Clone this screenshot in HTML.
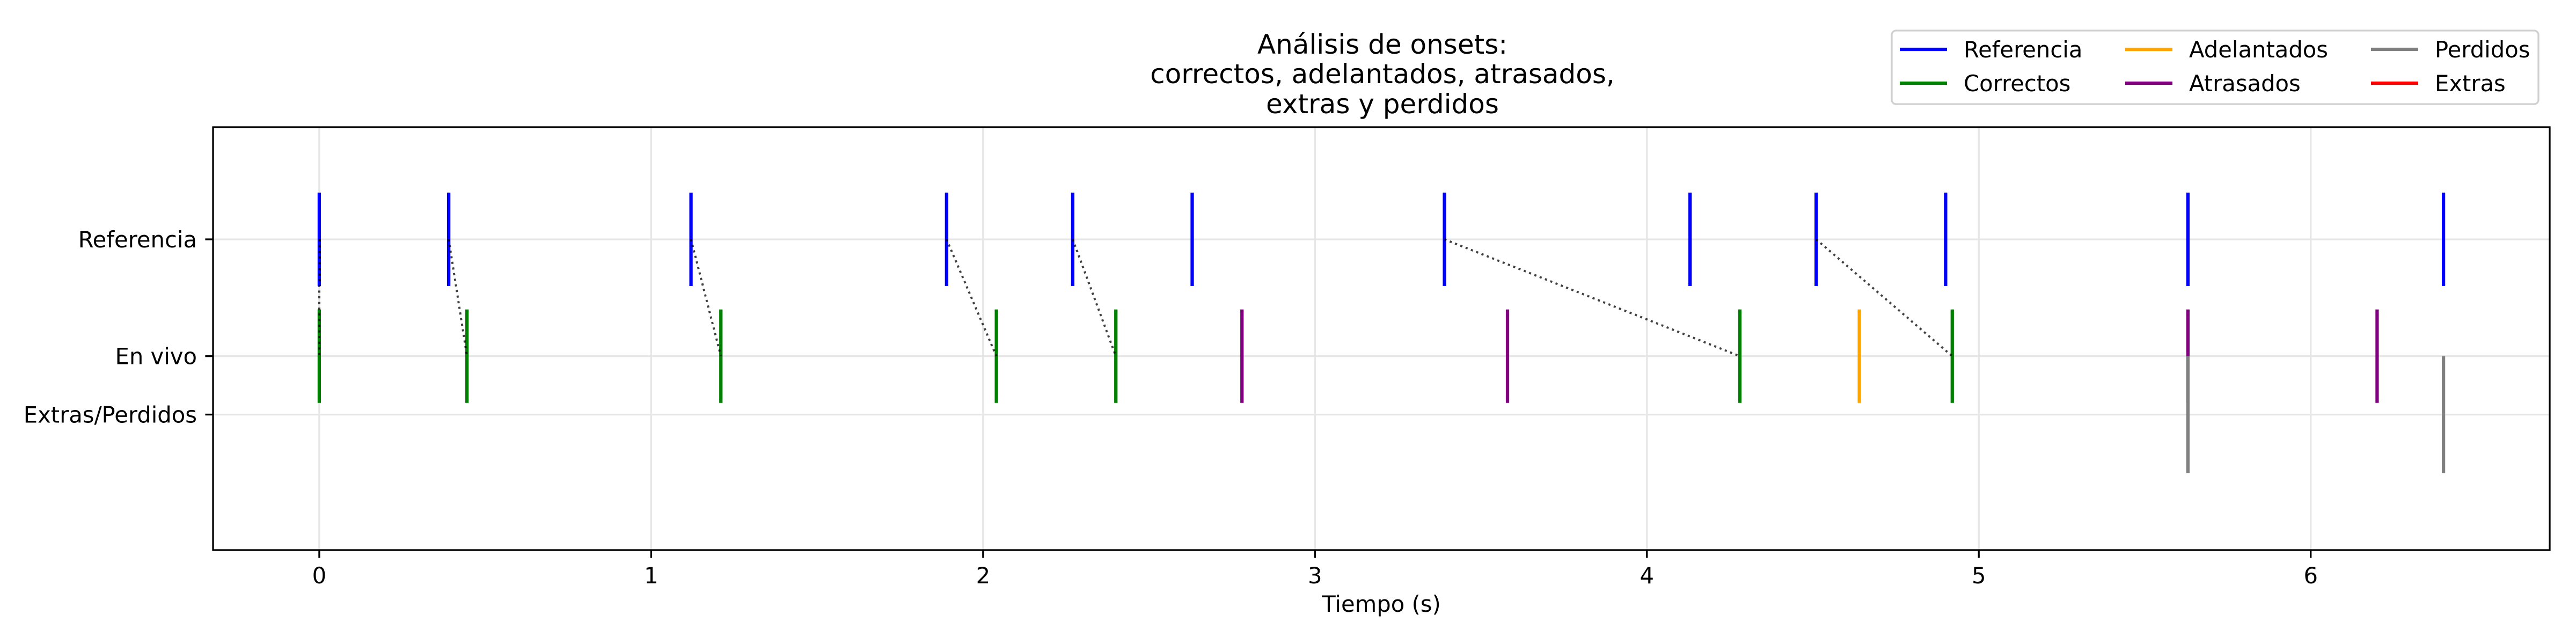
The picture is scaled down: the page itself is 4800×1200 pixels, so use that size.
<!DOCTYPE html>
<html><head><meta charset="utf-8"><style>
html,body{margin:0;padding:0;background:#fff}
svg{display:block;font-family:"DejaVu Sans","Liberation Sans",sans-serif}
</style></head><body>
<svg id="chart" width="4800" height="1200" viewBox="0 0 4800 1200" xmlns="http://www.w3.org/2000/svg">
<rect width="4800" height="1200" fill="#fff"/>
<g id="grid"></g>
<g id="marks"></g>
<g id="axes"></g>
<g font-size="50" text-anchor="middle" fill="#000">
<text x="2576" y="100">Análisis de onsets:</text>
<text x="2576" y="155">correctos, adelantados, atrasados,</text>
<text x="2576" y="211">extras y perdidos</text>
</g>
<text x="2574" y="1140" font-size="41.7" text-anchor="middle">Tiempo (s)</text>
<g>
<rect x="3525" y="57" width="1205" height="137" rx="8" fill="#fff" stroke="#d0d0d0" stroke-width="3.3"/>
<g id="legend-items"></g>
</g>
</svg>
<script>
const refTimes = [0, 0.39, 1.12, 1.89, 2.27, 2.63, 3.39, 4.13, 4.51, 4.90, 5.63, 6.40];
const correctTimes = [0, 0.445, 1.21, 2.04, 2.40, 4.28, 4.92];
const earlyTimes = [4.64];
const lateTimes = [2.78, 3.58, 5.63, 6.20];
const missedTimes = [5.63, 6.40];
const extraTimes = [];
const matchRef = [0, 0.39, 1.12, 1.89, 2.27, 3.39, 4.51];
const matchLive = [0, 0.445, 1.21, 2.04, 2.40, 4.28, 4.92];
const xTicks = [0, 1, 2, 3, 4, 5, 6];
const yTicks = [1, 0, -0.5];
const yTickLabels = ["Referencia", "En vivo", "Extras/Perdidos"];
const legendLabels = ["Referencia", "Correctos", "Adelantados", "Atrasados", "Perdidos", "Extras"];
const legendColors = ["#0000ff", "#008000", "#ffa500", "#800080", "#808080", "#ff0000"];

const L = 397, R = 4751, T = 237, B = 1025;
const xMin = -0.32, xMax = 6.72, yMin = -1.66, yMax = 1.96;
const X = v => L + (v - xMin) / (xMax - xMin) * (R - L);
const Y = v => B - (v - yMin) / (yMax - yMin) * (B - T);
const NS = "http://www.w3.org/2000/svg";
function mk(parent, tag, attrs) {
  const e = document.createElementNS(NS, tag);
  for (const k in attrs) e.setAttribute(k, attrs[k]);
  document.getElementById(parent).appendChild(e);
  return e;
}
// grid
xTicks.forEach(t => {
  const g = mk("grid", "line", {x1: X(t), x2: X(t), y1: T, y2: B, stroke: "#e6e6e6", "stroke-width": 3.3});
  
  
});
yTicks.forEach(t => {
  const g = mk("grid", "line", {x1: L, x2: R, y1: Y(t), y2: Y(t), stroke: "#e6e6e6", "stroke-width": 3.3});
  
  
});
function events(arr, y0, y1, color, name) {
  arr.forEach(t => {
    const e = mk("marks", "line", {x1: X(t), x2: X(t), y1: Y(y0), y2: Y(y1), stroke: color, "stroke-width": 6.25});
    
    
  });
}
events(refTimes, 0.6, 1.4, "#0000ff", "reference-onset");
events(correctTimes, -0.4, 0.4, "#008000", "correct-onset");
events(earlyTimes, -0.4, 0.4, "#ffa500", "early-onset");
events(lateTimes, -0.4, 0.4, "#800080", "late-onset");
events(missedTimes, -1, 0, "#808080", "missed-onset");
events(extraTimes, -1, 0, "#ff0000", "extra-onset");
matchRef.forEach((t, i) => {
  const e = mk("marks", "line", {x1: X(t), y1: Y(1), x2: X(matchLive[i]), y2: Y(0), stroke: "#000", "stroke-opacity": 0.75, "stroke-width": 4, "stroke-dasharray": "4 6.6"});
  
  
});
// axes
const fr = mk("axes", "rect", {x: L, y: T, width: R - L, height: B - T, fill: "none", stroke: "#000", "stroke-width": 3.3});


xTicks.forEach(t => {
  const tk = mk("axes", "line", {x1: X(t), x2: X(t), y1: B, y2: B + 14.6, stroke: "#000", "stroke-width": 3.3});
  
  
  const tx = mk("axes", "text", {x: X(t), y: B + 62, "font-size": 41.7, "text-anchor": "middle"});
  tx.textContent = String(t);
  
  
});
yTicks.forEach((t, i) => {
  const tk = mk("axes", "line", {x1: L - 14.6, x2: L, y1: Y(t), y2: Y(t), stroke: "#000", "stroke-width": 3.3});
  
  
  const tx = mk("axes", "text", {x: L - 30, y: Y(t) + 15, "font-size": 41.7, "text-anchor": "end"});
  tx.textContent = yTickLabels[i];
  
  
});
// legend
const colX = [3540, 3960, 4418], rowY = [92, 155];
legendLabels.forEach((lab, i) => {
  const c = Math.floor(i / 2), r = i % 2;
  const ln = mk("legend-items", "line", {x1: colX[c], x2: colX[c] + 88, y1: rowY[r], y2: rowY[r], stroke: legendColors[i], "stroke-width": 6.25});
  
  
  const tx = mk("legend-items", "text", {x: colX[c] + 119, y: rowY[r] + 15, "font-size": 41.7});
  tx.textContent = lab;
  
  
});
</script>
</body></html>
